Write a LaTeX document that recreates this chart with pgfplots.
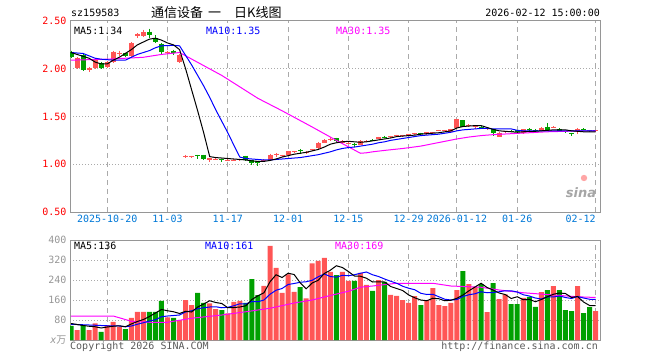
\documentclass[border=0pt]{standalone}
\usepackage{pgfplots}
\usepackage{pgfplotstable}
\usepackage{fontspec}
\pgfplotsset{compat=1.18}
\newfontfamily\mono{DejaVu Sans Mono}
\newfontfamily\cjk{Noto Sans CJK SC}
\newfontfamily\sansf{DejaVu Sans}
\definecolor{cred}{RGB}{255,85,85}
\definecolor{cgreen}{RGB}{0,160,0}
\definecolor{cblue}{RGB}{0,0,255}
\definecolor{cmag}{RGB}{255,0,255}
\definecolor{datecol}{RGB}{0,120,215}
\definecolor{gridc}{RGB}{170,170,170}
\definecolor{framec}{RGB}{150,150,150}
\definecolor{txtgray}{RGB}{90,90,90}

\pgfplotstableread{
x O H L C
1 2.01 2.12 2.00 2.11
3 1.99 2.02 1.97 2.01
4 2.01 2.10 2.00 2.09
6 2.02 2.08 2.01 2.07
7 2.07 2.19 2.06 2.18
8 2.15 2.19 2.13 2.165
10 2.13 2.28 2.12 2.27
11 2.34 2.37 2.32 2.36
12 2.34 2.41 2.33 2.38
16 2.16 2.19 2.15 2.18
18 2.07 2.15 2.06 2.14
19 1.08 1.10 1.07 1.09
20 1.075 1.09 1.07 1.085
23 1.04 1.07 1.02 1.07
24 1.05 1.065 1.045 1.06
26 1.035 1.05 1.03 1.045
27 1.035 1.05 1.03 1.045
28 1.04 1.06 1.03 1.05
32 1.03 1.05 1.02 1.04
33 1.04 1.11 1.03 1.10
34 1.10 1.12 1.08 1.11
35 1.09 1.10 1.08 1.10
36 1.10 1.14 1.10 1.135
37 1.125 1.14 1.12 1.135
39 1.115 1.14 1.11 1.13
40 1.145 1.16 1.14 1.155
41 1.165 1.23 1.16 1.225
42 1.225 1.26 1.22 1.255
43 1.255 1.29 1.24 1.265
45 1.22 1.25 1.21 1.245
46 1.215 1.23 1.21 1.225
48 1.20 1.25 1.20 1.245
49 1.235 1.25 1.23 1.245
51 1.26 1.29 1.26 1.29
53 1.285 1.30 1.28 1.295
54 1.295 1.31 1.29 1.305
55 1.295 1.31 1.29 1.305
56 1.30 1.32 1.30 1.32
57 1.315 1.33 1.31 1.325
59 1.315 1.34 1.31 1.335
60 1.33 1.34 1.32 1.34
61 1.35 1.36 1.345 1.36
62 1.35 1.36 1.345 1.36
63 1.34 1.37 1.335 1.37
64 1.375 1.475 1.37 1.47
66 1.40 1.42 1.395 1.41
67 1.39 1.41 1.37 1.40
69 1.365 1.38 1.355 1.375
71 1.29 1.335 1.285 1.33
72 1.335 1.35 1.33 1.345
75 1.33 1.37 1.32 1.365
78 1.35 1.385 1.345 1.38
80 1.385 1.40 1.375 1.395
84 1.35 1.375 1.32 1.365
87 1.345 1.36 1.34 1.355
}\upk

\pgfplotstableread{
x O H L C
0 2.18 2.19 2.11 2.12
2 2.14 2.15 1.98 1.99
5 2.06 2.07 2.00 2.01
9 2.16 2.17 2.12 2.13
13 2.39 2.42 2.32 2.35
14 2.32 2.35 2.27 2.28
15 2.26 2.27 2.15 2.18
17 2.19 2.20 2.14 2.16
21 1.095 1.10 1.06 1.085
22 1.10 1.10 1.04 1.05
25 1.06 1.06 1.02 1.05
29 1.09 1.09 1.03 1.04
30 1.04 1.04 0.99 1.01
31 1.03 1.03 0.98 1.01
38 1.145 1.16 1.11 1.135
44 1.27 1.28 1.23 1.24
47 1.215 1.22 1.18 1.205
50 1.255 1.26 1.24 1.245
52 1.29 1.30 1.27 1.28
58 1.325 1.33 1.31 1.315
65 1.46 1.465 1.385 1.39
68 1.395 1.40 1.38 1.385
70 1.365 1.37 1.30 1.325
73 1.35 1.36 1.34 1.34
74 1.36 1.36 1.33 1.335
76 1.37 1.375 1.35 1.355
77 1.36 1.37 1.34 1.35
79 1.39 1.43 1.35 1.355
81 1.37 1.375 1.345 1.35
82 1.345 1.35 1.325 1.335
83 1.325 1.33 1.30 1.315
85 1.37 1.375 1.36 1.36
86 1.355 1.36 1.34 1.345
}\dnk

\pgfplotstableread{
x V
1 40
3 40
4 67
6 60
7 73
8 53
10 89
11 113
12 113
16 91
18 80
19 160
20 140
23 147
24 124
26 107
27 153
28 157
32 217
33 377
34 289
35 189
36 263
37 193
39 167
40 307
41 317
42 329
43 273
45 273
46 237
48 269
49 221
51 240
53 181
54 177
55 160
56 149
57 176
59 160
60 208
61 140
62 136
63 149
64 200
66 224
67 213
69 112
71 164
72 183
75 169
78 192
80 216
84 216
87 116
}\upv

\pgfplotstableread{
x V
0 57
2 60
5 33
9 44
13 113
14 113
15 157
17 89
21 189
22 149
25 120
29 149
30 244
31 180
38 212
44 260
47 237
50 197
52 233
58 140
65 276
68 224
70 228
73 144
74 144
76 173
77 133
79 200
81 200
82 120
83 116
85 108
86 132
}\dnv

\begin{document}
\begin{tikzpicture}[x=1bp,y=1bp]
\useasboundingbox (0,0) rectangle (660,360);
% ---------------- price panel ----------------
\begin{axis}[
  at={(70bp,148bp)}, anchor=south west,
  scale only axis, width=530bp, height=191bp,
  xmin=-0.17, xmax=87.73, ymin=0.5, ymax=2.5,
  axis line style={framec, line width=1bp},
  xtick={6,16,26,36,46,56,64,74,87},
  xticklabels={2025-10-20,11-03,11-17,12-01,12-15,12-29,2026-01-12,01-26,\makebox[0pt][r]{02-12}},
  xticklabel style={font=\mono\fontsize{10bp}{12bp}\selectfont, text=datecol},
  ytick={0.5,1,1.5,2,2.5}, yticklabels={0.50,1.00,1.50,2.00,2.50},
  yticklabel style={font=\mono\fontsize{10bp}{12bp}\selectfont, text=red},
  major tick length=0pt,
  xmajorgrids, ymajorgrids,
  x grid style={gridc, line width=1bp, dash pattern=on 5bp off 4bp},
  y grid style={gridc, line width=1bp, dash pattern=on 1bp off 2bp},
  candle/.style={draw=none, mark=none, error bars/.cd, y dir=minus, y explicit, error mark=none},
]
% wicks
\addplot[candle, error bar style={draw=cred, line width=1bp}]
  table[x=x, y=H, y error minus expr=\thisrow{H}-\thisrow{L}] {\upk};
\addplot[candle, error bar style={draw=cgreen, line width=1bp}]
  table[x=x, y=H, y error minus expr=\thisrow{H}-\thisrow{L}] {\dnk};
% bodies
\addplot[candle, error bar style={draw=cred, line width=5bp}]
  table[x=x, y=C, y error minus expr=\thisrow{C}-\thisrow{O}] {\upk};
\addplot[candle, error bar style={draw=cgreen, line width=5bp}]
  table[x=x, y=O, y error minus expr=\thisrow{O}-\thisrow{C}] {\dnk};
% MA30
\addplot[cmag, line width=1bp] coordinates {
(0,2.09) (3,2.095) (6,2.10) (9,2.11) (12,2.12) (15,2.15) (18,2.17) (25,1.93) (31,1.69)
(35,1.56) (40,1.39) (44,1.25) (48,1.115) (49,1.12) (50,1.13) (52,1.145) (55,1.165)
(58,1.19) (60,1.215) (62,1.24) (64,1.265) (66,1.285) (68,1.30) (70,1.31) (73,1.32)
(76,1.33) (79,1.34) (82,1.345) (85,1.35) (87,1.35)};
% MA10
\addplot[cblue, line width=1bp] coordinates {
(0,2.17) (2,2.16) (4,2.11) (5,2.10) (7,2.09) (9,2.09) (11,2.15) (13,2.19) (14,2.22)
(15,2.24) (17,2.245) (18,2.24) (19,2.14) (20,2.04) (21,1.93) (22,1.82) (23,1.70)
(24,1.57) (25,1.45) (26,1.33) (27,1.20) (28,1.075) (29,1.06) (30,1.055) (31,1.05)
(32,1.045) (33,1.045) (34,1.05) (35,1.055) (36,1.06) (37,1.065) (38,1.07) (39,1.08)
(40,1.09) (41,1.10) (42,1.115) (43,1.13) (44,1.15) (45,1.165) (46,1.175) (47,1.18)
(48,1.19) (49,1.20) (50,1.21) (51,1.225) (52,1.235) (53,1.25) (54,1.26) (55,1.27)
(56,1.28) (57,1.29) (58,1.30) (59,1.305) (60,1.31) (61,1.315) (62,1.325) (63,1.335)
(64,1.35) (65,1.36) (66,1.365) (67,1.37) (68,1.375) (69,1.375) (70,1.37) (71,1.37)
(72,1.37) (73,1.37) (74,1.355) (75,1.35) (76,1.35) (80,1.35) (87,1.35)};
% MA5
\addplot[black, line width=1bp] coordinates {
(0,2.17) (1,2.15) (2,2.13) (3,2.11) (4,2.07) (5,2.05) (6,2.05) (7,2.09) (8,2.12)
(9,2.16) (10,2.20) (11,2.25) (12,2.28) (13,2.31) (14,2.32) (15,2.30) (16,2.27)
(17,2.25) (18,2.20) (19,2.00) (20,1.78) (21,1.56) (22,1.33) (23,1.08) (24,1.07)
(25,1.065) (26,1.06) (27,1.055) (28,1.05) (29,1.045) (30,1.035) (31,1.03) (32,1.03)
(33,1.04) (34,1.055) (35,1.075) (36,1.09) (37,1.105) (38,1.115) (39,1.125) (40,1.14)
(41,1.155) (42,1.18) (43,1.21) (44,1.225) (45,1.235) (46,1.24) (47,1.235) (48,1.23)
(49,1.235) (50,1.245) (51,1.255) (52,1.265) (53,1.275) (54,1.29) (55,1.295) (56,1.30)
(57,1.305) (58,1.315) (59,1.32) (60,1.325) (61,1.33) (62,1.34) (63,1.35) (64,1.38)
(65,1.395) (66,1.40) (67,1.405) (68,1.405) (69,1.385) (70,1.365) (71,1.35) (72,1.345)
(73,1.34) (74,1.335) (75,1.34) (76,1.345) (77,1.345) (78,1.35) (79,1.355) (80,1.36)
(81,1.36) (82,1.36) (83,1.35) (84,1.345) (85,1.34) (86,1.34) (87,1.34)};
\end{axis}
% ---------------- volume panel ----------------
\begin{axis}[
  at={(70bp,20bp)}, anchor=south west,
  scale only axis, width=530bp, height=100bp,
  xmin=-0.17, xmax=87.73, ymin=0, ymax=400,
  axis line style={framec, line width=1bp},
  xtick={6,16,26,36,46,56,64,74,87}, xticklabels={},
  ytick={0,80,160,240,320,400},
  yticklabels={{\itshape x}{\cjk 万},80,160,240,320,400},
  yticklabel style={font=\mono\fontsize{10bp}{12bp}\selectfont, text=framec},
  major tick length=0pt,
  xmajorgrids, ymajorgrids,
  x grid style={gridc, line width=1bp, dash pattern=on 5bp off 4bp},
  y grid style={gridc, line width=1bp, dash pattern=on 1bp off 2bp},
]
\addplot[ybar, bar width=5bp, bar shift=0pt, fill=cred, draw=none] table[x=x, y=V] {\upv};
\addplot[ybar, bar width=5bp, bar shift=0pt, fill=cgreen, draw=none] table[x=x, y=V] {\dnv};
% MA30
\addplot[cmag, line width=1bp] coordinates {
(0,96) (7,96) (10,75) (13,71) (16,71) (20,87) (25,100) (29,113) (33,127) (37,148)
(40,160) (43,178) (46,195) (48,211) (50,216) (54,227) (60,227) (63,216) (68,211)
(71,200) (75,189) (80,180) (84,173) (87,170)};
% MA10
\addplot[cblue, line width=1bp] coordinates {
(0,63) (3,60) (6,57) (8,56) (9,53) (10,56) (11,63) (12,69) (13,76) (14,81) (15,93)
(16,96) (17,98) (18,100) (19,112) (20,117) (21,125) (22,129) (23,132) (24,133) (25,129)
(26,131) (27,137) (28,145) (29,144) (30,154) (31,153) (32,160) (33,183) (34,199)
(35,206) (36,222) (37,226) (38,231) (39,233) (40,239) (41,253) (42,264) (43,254)
(44,251) (45,259) (46,257) (47,261) (48,267) (49,272) (50,261) (51,254) (52,244)
(53,235) (54,227) (55,215) (56,207) (57,201) (58,187) (59,182) (60,183) (61,173)
(62,163) (63,160) (64,162) (65,174) (66,181) (67,185) (68,193) (69,189) (70,190)
(71,193) (72,197) (73,197) (74,192) (75,181) (76,176) (77,168) (78,164) (79,173)
(80,172) (81,176) (82,170) (83,166) (84,174) (85,168) (86,163) (87,162)};
% MA5
\addplot[black, line width=1bp] coordinates {
(0,66) (1,62) (2,58) (3,55) (4,53) (5,48) (6,52) (7,55) (8,57) (9,53) (10,64) (11,74)
(12,82) (13,94) (14,108) (15,122) (16,117) (17,113) (18,106) (19,115) (20,112) (21,132)
(22,144) (23,157) (24,150) (25,146) (26,129) (27,130) (28,132) (29,137) (30,162)
(31,177) (32,189) (33,233) (34,261) (35,250) (36,267) (37,262) (38,229) (39,205)
(40,228) (41,239) (42,266) (43,279) (44,297) (45,290) (46,274) (47,256) (48,255)
(49,247) (50,232) (51,233) (52,232) (53,214) (54,206) (55,198) (56,180) (57,169)
(58,160) (59,157) (60,167) (61,165) (62,157) (63,159) (64,167) (65,180) (66,197)
(67,212) (68,227) (69,210) (70,200) (71,188) (72,182) (73,166) (74,173) (75,161)
(76,163) (77,153) (78,162) (79,173) (80,183) (81,188) (82,186) (83,170) (84,174)
(85,152) (86,138) (87,138)};
\end{axis}
% ---------------- texts ----------------
\begin{scope}[every node/.style={inner sep=0pt, font=\mono\fontsize{10bp}{12bp}\selectfont}]
\node[anchor=west] at (71,347) {sz159583};
\node[anchor=west, font=\cjk\fontsize{13bp}{15bp}\selectfont] at (151,347) {通信设备\hspace{5bp}一\hspace{13bp}日K线图};
\node[anchor=east] at (600,347) {2026-02-12 15:00:00};
\node[anchor=west] at (74,329) {MA5:1.34};
\node[anchor=west, text=cblue] at (206,329) {MA10:1.35};
\node[anchor=west, text=cmag] at (336,329) {MA30:1.35};
\node[anchor=west] at (74,114) {MA5:136};
\node[anchor=west, text=cblue] at (205,114) {MA10:161};
\node[anchor=west, text=cmag] at (335,114) {MA30:169};
\node[anchor=west, text=txtgray] at (70,13) {Copyright 2026 SINA.COM};
\node[anchor=east, text=txtgray] at (598,13) {http://finance.sina.com.cn};
\node[text=black!35, font=\sansf\bfseries\itshape\fontsize{13bp}{14bp}\selectfont] at (581,167) {sina};
\end{scope}
\fill[red!35] (584,182) circle (3.2bp);
\end{tikzpicture}
\end{document}
